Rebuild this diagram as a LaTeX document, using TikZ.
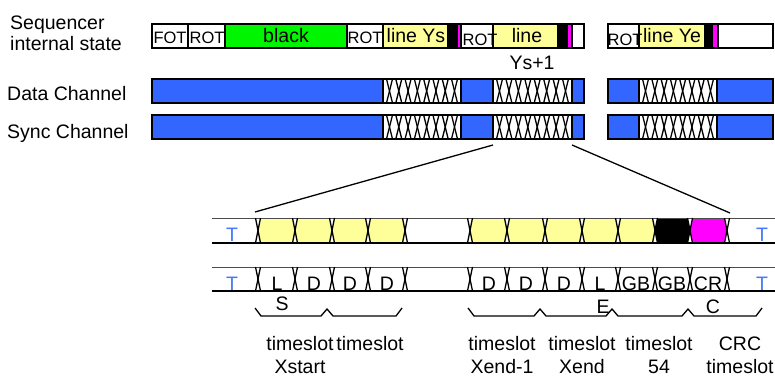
\documentclass[tikz,border=0pt]{standalone}
\usepackage{fontspec}
\setmainfont{Liberation Sans}
\definecolor{chblue}{RGB}{51,102,255}
\definecolor{lyellow}{RGB}{255,255,153}
\definecolor{lgreen}{RGB}{0,245,0}
\definecolor{tblue}{RGB}{70,120,255}
\definecolor{mag}{RGB}{255,0,255}
\begin{document}
\begin{tikzpicture}[x=1pt,y=-1pt,
	lbl/.style={font=\fontsize{19.5}{21}\selectfont,inner sep=0pt,anchor=base},
	slbl/.style={font=\fontsize{16.5}{18}\selectfont,inner sep=0pt,anchor=base},
	tlbl/.style={lbl,text=tblue},
	box/.style={draw=black,line width=1.6pt},
	xline/.style={line width=1.3pt},
	topline/.style={draw=black!70,line width=1pt},
	botline/.style={draw=black,line width=1.8pt},
	brk/.style={line width=1.3pt}]
	\useasboundingbox (0,0) rectangle (775,377);

	% Beschriftung links
	\node[lbl,anchor=base west] (seqa) at (10,30) {Sequencer};
	\node[lbl,anchor=base west] (seqb) at (10,51) {internal state};
	\node[lbl,anchor=base west] (dch) at (7,100) {Data Channel};
	\node[lbl,anchor=base west] (sch) at (7,138) {Sync Channel};

	% Zustand des Sequencers
	\foreach \a/\b/\c in {152/188/white,188/225/white,225/347/lgreen,347/383/white,
		383/448/lyellow,448/457/black,457/461/mag,461/493/white,493/558/lyellow,
		558/567/black,567/572/mag,572/584/white,608/639/white,639/705/lyellow,
		705/712/black,712/718/mag,718/773/white} {
	     \filldraw[box,fill=\c] (\a,24) rectangle (\b,48);
	}
	\node[slbl] (fot) at (170,44) {FOT};
	\node[slbl] (rota) at (207,44) {ROT};
	\node[lbl] (blk) at (286,43) {black};
	\node[slbl] (rotb) at (365,44) {ROT};
	\node[lbl] (lys) at (416,43) {line Ys};
	\node[slbl] (rotc) at (480,46) {ROT};
	\node[lbl] (lnext) at (527,43) {line};
	\node[lbl] (ysp) at (532,70) {Ys+1};
	\node[slbl] (rotd) at (625,46) {ROT};
	\node[lbl] (lye) at (672,43) {line Ye};

	% Data und Sync Channel
	\foreach \y in {79,115} {
	     \foreach \a/\b in {152/383,461/493,572/584,608/639,717/773} {
	          \filldraw[box,fill=chblue] (\a,\y) rectangle (\b,\y+24);
	     }
	     \foreach \a/\b in {383/461,493/572,639/717} {
	          \draw[box] (\a,\y) rectangle (\b,\y+24);
	          \foreach \k in {0,...,7} {
	               \draw[xline] ({\a+6.5+\k*(\b-\a-13)/7-3},\y) -- ({\a+6.5+\k*(\b-\a-13)/7+3},\y+24);
	               \draw[xline] ({\a+6.5+\k*(\b-\a-13)/7-3},\y+24) -- ({\a+6.5+\k*(\b-\a-13)/7+3},\y);
	          }
	     }
	}

	% Vergroesserung
	\coordinate (zla) at (493,145);
	\coordinate (zlb) at (255,212);
	\coordinate (zra) at (572,145);
	\coordinate (zrb) at (730,213);
	\draw[line width=1.3pt] (zla) -- (zlb);
	\draw[line width=1.3pt] (zra) -- (zrb);

	% Zeile A (Farben)
	\foreach \a/\b/\c in {258/295/lyellow,295/332/lyellow,332/368/lyellow,368/405/lyellow,
		470/507/lyellow,507/545/lyellow,545/582/lyellow,582/618/lyellow,618/655/lyellow,
		655/690/black,690/727/mag} {
	     \fill[\c] (\a,230.5) -- (\a+2.5,218) -- (\b-2.5,218) -- (\b,230.5) -- (\b-2.5,243) -- (\a+2.5,243) -- cycle;
	}
	% Zeilen A und B
	\foreach \t/\u in {218/243,267/291} {
	     \draw[topline] (212,\t) -- (775,\t);
	     \draw[botline] (212,\u) -- (775,\u);
	     \foreach \x in {258,295,332,368,405,470,507,545,582,618,655,690,727} {
	          \draw[xline] (\x-2.5,\t) -- (\x+2.5,\u);
	          \draw[xline] (\x-2.5,\u) -- (\x+2.5,\t);
	     }
	}
	\node[tlbl] (tal) at (232,241) {T};
	\node[tlbl] (tar) at (762,241) {T};
	\node[tlbl] (tbl) at (232,290) {T};
	\node[tlbl] (tbr) at (762,290) {T};

	\foreach \x/\s [count=\i] in {277/L,314/D,350/D,387/D,489/D,526/D,564/D,600/L,636/GB,672/GB,708/CR} {
	     \node[lbl] (cb\i) at (\x,290) {\s};
	}

	% Klammern
	\draw[brk] (255,308) -- (261,316) -- (321,316) -- (327,309) -- (333,316) -- (396,316) -- (402,308);
	\draw[brk] (468,308) -- (474,316) -- (534,316) -- (540,309) -- (546,316) -- (606,316) -- (612,309)
		-- (618,316) -- (682,316) -- (688,309) -- (694,316) -- (756,316) -- (762,308);
	\node[lbl] (ls) at (282,310) {S};
	\node[lbl] (le) at (603,313) {E};
	\node[lbl] (lc) at (713,313) {C};

	% Zeitschlitze
	\foreach \x/\s/\r [count=\i] in {300/timeslot/Xstart,370/timeslot/,502/timeslot/Xend-1,
		582/timeslot/Xend,659/timeslot/54,740/CRC/timeslot} {
	     \node[lbl] (tsa\i) at (\x,350) {\s};
	     \node[lbl] (tsb\i) at (\x,373) {\r};
	}
\end{tikzpicture}
\end{document}
